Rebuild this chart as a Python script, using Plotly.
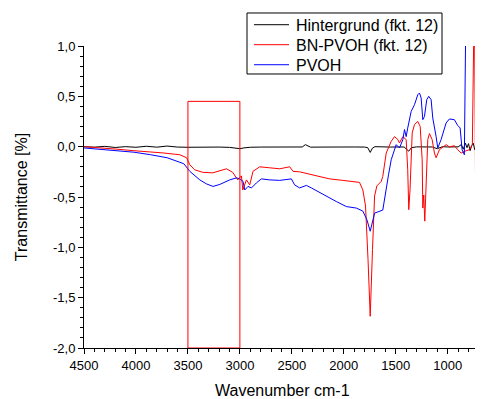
import plotly.graph_objects as go

# wavenumbers [cm-1] and transmittance values
hg_wn = [4500, 4400, 4300, 4200, 4100, 4000, 3900, 3800, 3700, 3600, 3500, 3400, 3300,
         3200, 3100, 3000, 2960, 2900, 2800, 2700, 2600, 2500, 2400, 2370, 2345, 2320,
         2200, 2100, 2000, 1900, 1800, 1770, 1746, 1725, 1700, 1650, 1600, 1550, 1500,
         1420, 1375, 1350, 1300, 1250, 1200, 1150, 1100, 1080, 1050, 1000, 950, 900,
         870, 850, 830, 815, 800, 785, 770, 755, 740, 725, 710, 695, 680]
hg_t = [0.0, -0.005, 0.003, -0.008, 0.0, -0.006, 0.004, -0.005, 0.006, -0.004, -0.006,
        -0.003, -0.006, -0.004, -0.007, -0.02, -0.012, -0.006, -0.004, -0.005, -0.003,
        -0.004, -0.003, 0.02, 0.005, -0.005, -0.004, -0.002, -0.005, -0.003, -0.004,
        -0.01, -0.057, -0.015, 0.0, -0.003, -0.002, -0.004, -0.003, -0.003, -0.045,
        -0.01, -0.002, -0.004, 0.0, -0.003, -0.02, -0.01, 0.0, -0.003, 0.0, -0.002,
        0.02, -0.025, 0.035, -0.01, 0.03, -0.04, 0.01, 0.035, -0.03, 0.02, -0.015,
        0.025, 0.0]

bn_wn = [4500, 4346, 4183, 4020, 3866, 3731, 3626, 3578, 3513, 3482, 3434, 3357, 3261,
         3193, 3129, 3069, 3021, 2985, 2972, 2937, 2905, 2874, 2809, 2713, 2617, 2521,
         2489, 2425, 2297, 2137, 2009, 1849, 1817, 1791, 1767, 1746, 1724, 1704, 1682,
         1640, 1625, 1592, 1544, 1512, 1480, 1464, 1432, 1400, 1385, 1375, 1363, 1352,
         1342, 1320, 1288, 1265, 1246, 1240, 1231, 1221, 1202, 1192, 1176, 1150, 1128,
         1112, 1080, 1041, 1015, 984, 936, 904, 871, 840, 792, 763, 744, 728, 705, 690,
         676]
bn_t = [0.0, -0.01, -0.025, -0.04, -0.05, -0.063, -0.075, -0.08, -0.11, -0.18, -0.23,
        -0.255, -0.26, -0.24, -0.22, -0.255, -0.33, -0.29, -0.43, -0.33, -0.38, -0.245,
        -0.2, -0.21, -0.22, -0.2, -0.245, -0.25, -0.28, -0.32, -0.335, -0.355, -0.43,
        -0.59, -1.12, -1.685, -1.02, -0.49, -0.39, -0.345, -0.295, -0.063, 0.053, 0.1,
        0.07, 0.037, 0.1, 0.07, -0.23, -0.626, -0.43, -0.13, 0.136, 0.22, 0.25, 0.2,
        -0.13, -0.61, -0.48, -0.74, -0.23, 0.07, 0.13, 0.07, -0.063, -0.11, -0.03,
        0.003, 0.02, -0.003, 0.01, -0.03, -0.063, -0.047, -0.03, 0.02, 1.6, -1.12,
        -1.14, -1.04, -1.2]

pvoh_wn = [4500, 4346, 4183, 4020, 3859, 3700, 3578, 3539, 3482, 3386, 3321, 3258, 3193,
           3097, 3033, 3001, 2970, 2953, 2922, 2889, 2841, 2793, 2713, 2617, 2505, 2473,
           2425, 2360, 2312, 2201, 2072, 1976, 1880, 1817, 1778, 1746, 1724, 1704, 1625,
           1592, 1570, 1544, 1496, 1464, 1432, 1416, 1400, 1385, 1352, 1320, 1288, 1272,
           1256, 1240, 1224, 1202, 1183, 1160, 1144, 1112, 1096, 1064, 1016, 984, 936,
           904, 881, 862, 840, 823]
pvoh_t = [-0.013, -0.025, -0.037, -0.055, -0.08, -0.11, -0.155, -0.17, -0.245, -0.33,
          -0.37, -0.395, -0.375, -0.33, -0.31, -0.32, -0.345, -0.43, -0.395, -0.41,
          -0.36, -0.32, -0.33, -0.335, -0.32, -0.38, -0.41, -0.385, -0.41, -0.475,
          -0.545, -0.595, -0.61, -0.64, -0.725, -0.84, -0.745, -0.66, -0.63, -0.395,
          -0.28, -0.13, 0.02, -0.013, 0.07, 0.17, 0.1, 0.185, 0.35, 0.417, 0.516, 0.533,
          0.484, 0.268, 0.3, 0.467, 0.5, 0.467, 0.285, 0.1, -0.013, 0.07, 0.235, 0.275,
          0.268, 0.21, 0.186, -0.03, -0.08, 1.6]

y_ticks = [-2.0, -1.5, -1.0, -0.5, 0.0, 0.5, 1.0]
y_labels = ["-2,0", "-1,5", "-1,0", "-0,5", "0,0", "0,5", "1,0"]
box_wn = (3500, 3000)
box_t = (-2.0, 0.45)

names = ["Hintergrund (fkt. 12)", "BN-PVOH (fkt. 12)", "PVOH"]
colors = ["black", "red", "blue"]

FONT = "Arial, Liberation Sans, sans-serif"

fig = go.Figure()
for wn, t, name, col in zip([hg_wn, bn_wn, pvoh_wn], [hg_t, bn_t, pvoh_t], names, colors):
    fig.add_trace(go.Scatter(x=wn, y=t, mode="lines", name=name, showlegend=False,
                             line=dict(color=col, width=1)))

# marked OH region
fig.add_shape(type="rect", x0=box_wn[0], x1=box_wn[1], y0=box_t[0], y1=box_t[1],
              xref="x", yref="y", line=dict(color="red", width=1))

# legend box drawn by hand (plotly's own legend comes out too wide / too tall)
fig.add_shape(type="rect", xref="paper", yref="paper", x0=0.4106, x1=0.9018,
              y0=0.9073, y1=1.1093, line=dict(color="black", width=1),
              fillcolor="white", layer="above")
row_y = [1.0705, 1.0043, 0.938]
for name, col, ry in zip(names, colors, row_y):
    fig.add_shape(type="line", xref="paper", yref="paper", x0=0.4282, x1=0.5164,
                  y0=ry, y1=ry, line=dict(color=col, width=1), layer="above")
    fig.add_annotation(text=name, xref="paper", yref="paper", x=0.529, y=ry,
                       xanchor="left", yanchor="middle", showarrow=False,
                       font=dict(size=16), yshift=-1)

# x axis title as annotation so it can sit low enough
fig.add_annotation(text="Wavenumber cm-1", xref="paper", yref="paper", x=0.5, y=0,
                   xanchor="center", yanchor="middle", yshift=-42, showarrow=False,
                   font=dict(size=16))

# the page body adds an 8 px margin, so the figure is 8 px smaller than the window
fig.update_layout(
    width=475, height=391,
    margin=dict(l=76, r=2, t=38, b=51, autoexpand=False),
    paper_bgcolor="white", plot_bgcolor="white",
    font=dict(family=FONT, size=13, color="black"),
)
fig.update_xaxes(
    range=[4500, 680], showgrid=False, zeroline=False, automargin=False,
    showline=True, linecolor="black", linewidth=1,
    ticks="outside", ticklen=5, tickcolor="black", dtick=500, tick0=0,
    minor=dict(ticks="outside", ticklen=3, dtick=100, tick0=0, tickcolor="black"),
)
fig.update_yaxes(
    range=[-2.0, 1.0], showgrid=False, zeroline=False, automargin=False,
    showline=True, linecolor="black", linewidth=1,
    ticks="outside", ticklen=5, tickcolor="black",
    tickmode="array", tickvals=y_ticks, ticktext=y_labels,
    minor=dict(ticks="outside", ticklen=3, tickmode="linear", dtick=0.1, tick0=0,
               tickcolor="black"),
    title=dict(text="Transmittance [%]", font=dict(size=16), standoff=21),
)

fig.write_html("out.html")
